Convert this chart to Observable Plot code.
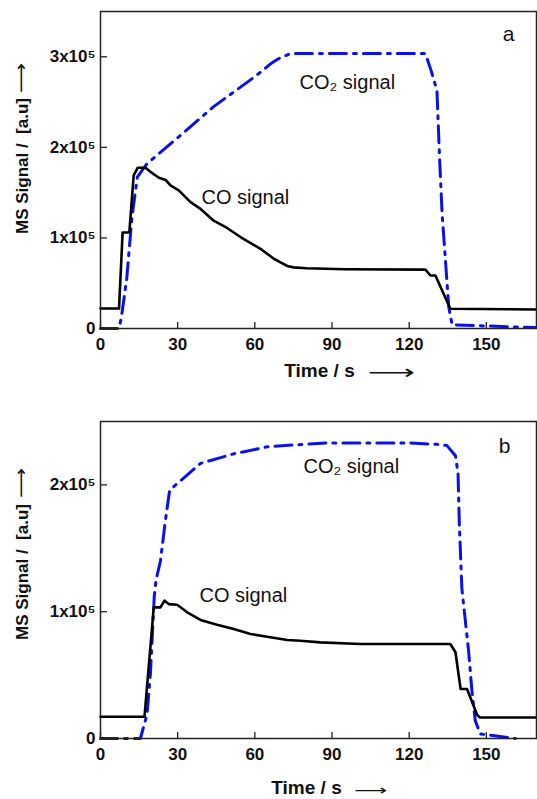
<!DOCTYPE html>
<html><head><meta charset="utf-8">
<script src="https://cdn.jsdelivr.net/npm/d3@7"></script>
<script src="https://cdn.jsdelivr.net/npm/@observablehq/plot@0.6"></script>
<style>body{margin:0;background:#fff;} #chart{width:537px;} #chart svg{display:block;}</style>
</head><body><div id="chart"></div>
<script>
// ---------- data ----------
const timeTicks = [0, 30, 60, 90, 120, 150];

const yTicksA = [0, 100000, 200000, 300000];
const yTickLabelsA = ["0", "1x10⁵", "2x10⁵", "3x10⁵"];
const yTicksB = [0, 100000, 200000];
const yTickLabelsB = ["0", "1x10⁵", "2x10⁵"];

// panel a – CO signal
const coTimeA   = [0, 7.2, 8.6, 11.2, 12.9, 14.5, 17.5, 19.4, 22.7, 25.3, 27.2, 30.4, 35, 38.9, 44, 49.2, 54.4, 62.2, 67.4, 70, 72.6, 75, 80, 95, 126.3, 128.3, 130.2, 136, 169.5];
const coSignalA = [22000, 22000, 106000, 106000, 169000, 177500, 177500, 173000, 166500, 164000, 158000, 152500, 139500, 132000, 119000, 111000, 101000, 88000, 77000, 73000, 69000, 67500, 66500, 65500, 65000, 58500, 58500, 21800, 21000];
// panel a – CO2 signal
const co2TimeA   = [0, 7.2, 8.1, 10.2, 12.2, 14.3, 18.1, 31, 44, 59.5, 62.2, 66, 69.3, 73.8, 126.3, 128.5, 130.8, 131.8, 132.8, 135.4, 136.7, 169.5];
const co2SignalA = [0, 0, 12000, 55000, 122000, 167000, 182000, 213000, 245000, 277000, 283000, 292000, 298000, 303500, 303500, 285000, 263000, 189000, 127000, 23500, 4000, 1000];

// panel b – CO signal
const coTimeB   = [0, 17.1, 20.7, 23.3, 24.9, 26.5, 29.8, 33.7, 38.9, 45.3, 51.8, 58.3, 64.8, 72.6, 77.7, 85.5, 101, 136, 138, 140, 142.5, 146.4, 147.5, 169.5];
const coSignalB = [17100, 17100, 103400, 103400, 108700, 106000, 105500, 99500, 93500, 89700, 86300, 82400, 80300, 77700, 77100, 75800, 74500, 74500, 68000, 39000, 39000, 18700, 16600, 16600];
// panel b – CO2 signal
const co2TimeB   = [0, 15.5, 18.1, 19.4, 20.5, 20.9, 21.6, 23.3, 25.3, 26.9, 31, 38.9, 51.8, 64.8, 75.1, 88, 120.5, 130.8, 134.7, 138, 139, 139.5, 140.5, 143.1, 144.4, 145.7, 147.7, 150.3, 161.3];
const co2SignalB = [0, 0, 19000, 51000, 95500, 112000, 125000, 140000, 173000, 196000, 203000, 217000, 224500, 230000, 231500, 233000, 233000, 232000, 231000, 223000, 209000, 169000, 118000, 69000, 37600, 14000, 3500, 3000, 0];

const panelLetters = ["a", "b"];
const seriesLabels = ["CO signal", "CO₂ signal"];
const xLabel = "Time / s";
const yLabel = "MS Signal /  [a.u]";
const arrowGlyph = "⟶";

// ---------- drawing ----------
const W = 537, ML = 100, MR = 1;
const font = "Liberation Sans, Arial, Helvetica, sans-serif";
const blue = "#0a10ea";

function panel(o) {
  const innerH = o.height - o.marginTop - o.marginBottom;
  const innerW = W - ML - MR;
  const co = o.coT.map((t, i) => ({t, v: o.coV[i]}));
  const co2 = o.co2T.map((t, i) => ({t, v: o.co2V[i]}));
  const svg = Plot.plot({
    width: W, height: o.height,
    marginLeft: ML, marginRight: MR, marginTop: o.marginTop, marginBottom: o.marginBottom,
    style: {fontFamily: font, fontSize: "17px", fontWeight: "bold", background: "#fff", color: "#111", overflow: "visible"},
    x: {domain: [0, 169.5], ticks: timeTicks, tickSize: 0, tickPadding: 9, tickFormat: d => String(d), label: null},
    y: {domain: [0, o.yMax], ticks: o.yTicks, tickSize: 0, tickPadding: 5, tickFormat: d => o.yLabels[o.yTicks.indexOf(d)], label: null},
    marks: [
      Plot.tickX(timeTicks, {x: d => d, insetTop: innerH - 6, stroke: "#222", strokeWidth: 1.3}),
      Plot.tickY(o.yTicks, {y: d => d, insetRight: innerW - 7, stroke: "#222", strokeWidth: 1.3}),
      Plot.line(co2, {x: "t", y: "v", stroke: blue, strokeWidth: 3, strokeDasharray: "17,7,3,7", strokeLinejoin: "round"}),
      Plot.line(co, {x: "t", y: "v", stroke: "#000", strokeWidth: 2.6, strokeLinejoin: "round"}),
      Plot.frame({stroke: "#222", strokeWidth: 1.5}),
      // annotations
      Plot.text([seriesLabels[1]], {frameAnchor: "top-left", dx: o.co2Lab[0], dy: o.co2Lab[1], textAnchor: "start", lineAnchor: "middle", fontSize: 20, fontWeight: "normal", fill: "#111"}),
      Plot.text([seriesLabels[0]], {frameAnchor: "top-left", dx: o.coLab[0], dy: o.coLab[1], textAnchor: "start", lineAnchor: "middle", fontSize: 20, fontWeight: "normal", fill: "#111"}),
      Plot.text([o.letter], {frameAnchor: "top-left", dx: o.letterPos[0], dy: o.letterPos[1], textAnchor: "middle", lineAnchor: "middle", fontSize: 21, fontWeight: "normal", fill: "#111"}),
      // axis titles
      Plot.text([xLabel], {frameAnchor: "bottom", dx: o.xLab[0], dy: o.xLab[1], textAnchor: "middle", lineAnchor: "middle", fontSize: 19, fontWeight: "bold", fill: "#111"}),
      Plot.text([arrowGlyph], {frameAnchor: "bottom", dx: o.xArrow[0], dy: o.xArrow[1], textAnchor: "middle", lineAnchor: "middle", fontSize: o.xArrow[2], fontFamily: "DejaVu Sans", fontWeight: "normal", fill: "#111"}),
      Plot.text([yLabel], {frameAnchor: "left", dx: -78, dy: o.yLab, rotate: -90, textAnchor: "middle", lineAnchor: "middle", fontSize: 17, fontWeight: "bold", fill: "#111"}),
      Plot.text([arrowGlyph], {frameAnchor: "left", dx: -79, dy: o.yArrow, rotate: -90, textAnchor: "middle", lineAnchor: "middle", fontSize: 18, fontFamily: "DejaVu Sans", fontWeight: "normal", fill: "#111"})
    ]
  });
  // stretch the long arrows to their lengths (x arrow first, then y arrow)
  const arrows = [...svg.querySelectorAll("text")].filter(t => t.textContent === arrowGlyph);
  const lens = [o.xArrow[3], 30];
  arrows.forEach((t, i) => { t.setAttribute("textLength", lens[i]); t.setAttribute("lengthAdjust", "spacingAndGlyphs"); });
  return svg;
}

const chart = document.getElementById("chart");
chart.append(panel({
  height: 400, marginTop: 11, marginBottom: 72, yMax: 350000,
  yTicks: yTicksA, yLabels: yTickLabelsA,
  coT: coTimeA, coV: coSignalA, co2T: co2TimeA, co2V: co2SignalA,
  letter: panelLetters[0],
  co2Lab: [199, 71], coLab: [101, 186], letterPos: [408, 23],
  xLab: [1, 42], xArrow: [73, 44, 20, 47],
  yLab: -4, yArrow: -92
}));
chart.append(panel({
  height: 399, marginTop: 21, marginBottom: 61, yMax: 250000,
  yTicks: yTicksB, yLabels: yTickLabelsB,
  coT: coTimeB, coV: coSignalB, co2T: co2TimeB, co2V: co2SignalB,
  letter: panelLetters[1],
  co2Lab: [203, 45], coLab: [99, 174], letterPos: [404, 25],
  xLab: [-12, 49], xArrow: [52, 52, 14, 33],
  yLab: -8, yArrow: -97
}));
</script></body></html>
